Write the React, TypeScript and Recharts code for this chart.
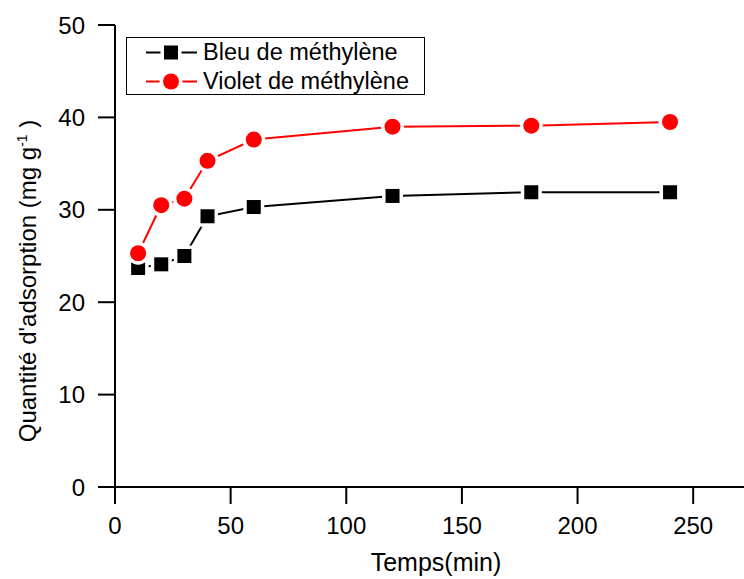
import { LineChart, Line, XAxis, YAxis, Legend } from 'recharts';

// Temps de contact (min)
const temps = [10, 20, 30, 40, 60, 120, 180, 240];
// Quantité adsorbée (mg/g)
const bleu = [23.7, 24.1, 25.0, 29.3, 30.3, 31.5, 31.9, 31.9];
const violet = [25.3, 30.5, 31.2, 35.3, 37.6, 39.0, 39.1, 39.5];

const seriesNames = ['Bleu de méthylène', 'Violet de méthylène'];
const seriesColors = ['#000000', '#ff0000'];

const xMajor = [0, 50, 100, 150, 200, 250];
const xMinor = [25, 75, 125, 175, 225];
const xTop = [0, 25, 50, 75, 100, 125, 150, 175, 200, 225, 250, 275];
const yMajor = [0, 10, 20, 30, 40, 50];
const yMinor = [5, 15, 25, 35, 45];

const data = temps.map((t, i) => ({ t, bleu: bleu[i], violet: violet[i] }));

const FONT = '"Liberation Sans", Arial, sans-serif';

const SquareDot = (props: any) => {
  const { cx, cy, fill } = props;
  if (cx == null || cy == null) return null;
  return (
    <g>
      <rect x={cx - 10.5} y={cy - 10.5} width={21} height={21} fill="#fff" />
      <rect x={cx - 7} y={cy - 7} width={14} height={14} fill={fill} />
    </g>
  );
};

const CircleDot = (props: any) => {
  const { cx, cy, fill } = props;
  if (cx == null || cy == null) return null;
  return (
    <g>
      <circle cx={cx} cy={cy} r={11.5} fill="#fff" />
      <circle cx={cx} cy={cy} r={8} fill={fill} />
    </g>
  );
};

const LegendBox = () => (
  <div
    style={{
      boxSizing: 'border-box',
      width: 299,
      height: 58,
      border: '1px solid #000',
      background: '#fff',
      fontFamily: FONT,
      fontSize: 23.5,
      color: '#000',
    }}
  >
    {seriesNames.map((name, i) => (
      <div key={name} style={{ display: 'flex', alignItems: 'center', height: 29, marginLeft: 14 }}>
        <svg width={60} height={29}>
          <line x1={5} x2={56} y1={14.5} y2={14.5} stroke={seriesColors[i]} strokeWidth={2} />
          {i === 0 ? (
            <SquareDot cx={30} cy={14.5} fill={seriesColors[i]} />
          ) : (
            <CircleDot cx={30} cy={14.5} fill={seriesColors[i]} />
          )}
        </svg>
        <span style={{ marginLeft: 2, lineHeight: '29px', whiteSpace: 'nowrap' }}>{name}</span>
      </div>
    ))}
  </div>
);

const YTitle = (props: any) => {
  const { viewBox } = props;
  const x = viewBox.x + 36;
  const y = viewBox.y + viewBox.height / 2 + 25;
  return (
    <text
      x={x}
      y={y}
      transform={`rotate(-90 ${x} ${y})`}
      textAnchor="middle"
      fontFamily={FONT}
      fontSize={24}
      fill="#000"
    >
      Quantité d'adsorption (mg g
      <tspan dy={-9} fontSize={14}>-1</tspan>
      <tspan dy={9}> )</tspan>
    </text>
  );
};

const XTitle = (props: any) => {
  const { viewBox } = props;
  return (
    <text
      x={viewBox.x + viewBox.width / 2 + 3}
      y={viewBox.y + 84}
      textAnchor="middle"
      fontFamily={FONT}
      fontSize={25}
      fill="#000"
    >
      Temps(min)
    </text>
  );
};

const axisStroke = { stroke: '#000', strokeWidth: 2 };
const tickStyle = { fill: '#000', fontSize: 24, fontFamily: FONT };

export default function App() {
  return (
    <div style={{ position: 'absolute', left: 0, top: 0, width: 744, height: 579, overflow: 'hidden', background: '#fff' }}>
      <LineChart width={800} height={579} data={data} margin={{ top: 25, right: 49, bottom: 0, left: 0 }}>
        <XAxis
          xAxisId="minor"
          type="number"
          dataKey="t"
          domain={[0, 275]}
          ticks={xMinor}
          height={0}
          tickSize={9}
          tick={false}
          axisLine={false}
          tickLine={axisStroke}
        />
        <XAxis
          xAxisId="main"
          type="number"
          dataKey="t"
          domain={[0, 275]}
          ticks={xMajor}
          height={92}
          tickSize={17}
          tickMargin={13}
          tick={tickStyle}
          axisLine={axisStroke}
          tickLine={axisStroke}
          label={<XTitle />}
        />
        <XAxis
          xAxisId="top"
          orientation="top"
          type="number"
          dataKey="t"
          domain={[0, 275]}
          ticks={xTop}
          height={0}
          mirror
          tickSize={3}
          tick={false}
          axisLine={axisStroke}
          tickLine={{ stroke: '#000', strokeWidth: 1 }}
        />
        <YAxis
          yAxisId="minor"
          type="number"
          domain={[0, 50]}
          ticks={yMinor}
          width={0}
          tickSize={9}
          tick={false}
          axisLine={false}
          tickLine={axisStroke}
        />
        <YAxis
          yAxisId="main"
          type="number"
          domain={[0, 50]}
          ticks={yMajor}
          width={115}
          tickSize={17}
          tickMargin={13}
          tick={tickStyle}
          axisLine={axisStroke}
          tickLine={axisStroke}
          label={<YTitle />}
        />
        <Legend
          layout="vertical"
          align="center"
          verticalAlign="middle"
          content={<LegendBox />}
          wrapperStyle={{ left: 126, top: 37, width: 'auto', height: 'auto' }}
        />
        <Line
          xAxisId="main"
          yAxisId="main"
          dataKey="bleu"
          name={seriesNames[0]}
          stroke={seriesColors[0]}
          strokeWidth={2}
          fill={seriesColors[0]}
          dot={<SquareDot fill={seriesColors[0]} />}
          activeDot={false}
          isAnimationActive={false}
        />
        <Line
          xAxisId="main"
          yAxisId="main"
          dataKey="violet"
          name={seriesNames[1]}
          stroke={seriesColors[1]}
          strokeWidth={2}
          fill={seriesColors[1]}
          dot={<CircleDot fill={seriesColors[1]} />}
          activeDot={false}
          isAnimationActive={false}
        />
      </LineChart>
    </div>
  );
}
